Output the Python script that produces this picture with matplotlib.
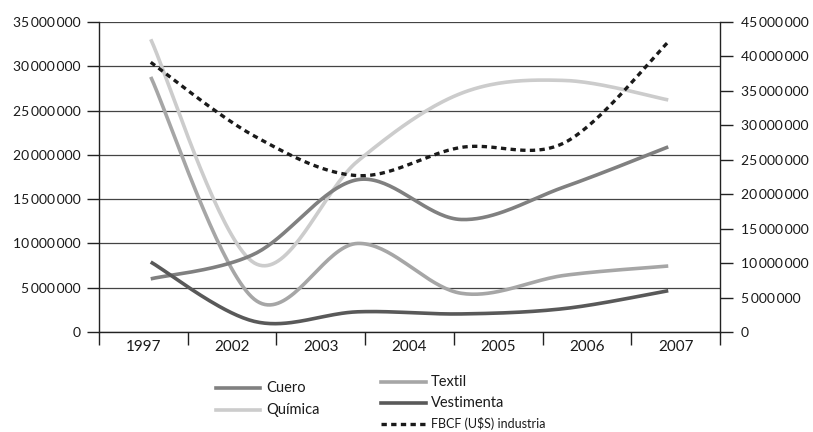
import numpy as np
import matplotlib
matplotlib.use("Agg")
import matplotlib.pyplot as plt
from matplotlib.lines import Line2D
from matplotlib.ticker import FuncFormatter, MultipleLocator, FixedLocator

plt.rcParams['font.family'] = ['Lato', 'DejaVu Sans']

# ---- data ----
categories = ["1997", "2002", "2003", "2004", "2005", "2006", "2007"]
cuero      = [6.0e6, 8.8e6, 17.2e6, 12.7e6, 16.4e6, 20.9e6]
quimica    = [33.05e6, 7.8e6, 19.3e6, 26.95e6, 28.4e6, 26.2e6]
textil     = [28.8e6, 3.7e6, 10.0e6, 4.37e6, 6.4e6, 7.45e6]
vestimenta = [7.9e6, 1.2e6, 2.28e6, 2.04e6, 2.65e6, 4.66e6]
fbcf       = [39.15e6, 28.45e6, 22.7e6, 26.8e6, 27.5e6, 42.1e6]   # right axis

W, H = 813, 432
fig = plt.figure(figsize=(W / 100, H / 100), dpi=100)
ax = fig.add_axes([99 / W, 1 - 332 / H, 621 / W, 310 / H])
ax2 = ax.twinx()


def smooth(xs, ys, n=40):
    """Excel-like smoothed line (Catmull-Rom Bezier)."""
    P = np.column_stack([xs, ys]).astype(float)
    m = len(P)
    out = []
    for i in range(m - 1):
        p0 = P[i]
        p3 = P[i + 1]
        prev = P[i - 1] if i > 0 else P[i]
        nxt = P[i + 2] if i + 2 < m else P[i + 1]
        c1 = p0 + (p3 - prev) / 6.0
        c2 = p3 - (nxt - p0) / 6.0
        t = np.linspace(0, 1, n)[:, None]
        seg = ((1 - t) ** 3) * p0 + 3 * ((1 - t) ** 2) * t * c1 + 3 * (1 - t) * t ** 2 * c2 + t ** 3 * p3
        out.append(seg if i == 0 else seg[1:])
    s = np.vstack(out)
    return s[:, 0], s[:, 1]


ncat = len(categories)
npts = len(cuero)
xs = (np.arange(npts) + 0.5) * ncat / npts

styles = {
    "Cuero": dict(color="#808080", lw=2.6),
    "Química": dict(color="#cccccc", lw=2.6),
    "Textil": dict(color="#a6a6a6", lw=2.6),
    "Vestimenta": dict(color="#595959", lw=2.6),
    "FBCF (U$S) industria": dict(color="#1a1a1a", lw=2.4, dashes=(1.6, 1.3), dash_capstyle="butt"),
}

for name, vals in [("Química", quimica), ("Textil", textil), ("Cuero", cuero), ("Vestimenta", vestimenta)]:
    sx, sy = smooth(xs, vals)
    ax.plot(sx, sy, solid_capstyle="butt", zorder=3, **styles[name])
sx, sy = smooth(xs, fbcf)
ax2.plot(sx, sy, zorder=4, **styles["FBCF (U$S) industria"])

fmt = FuncFormatter(lambda v, p: f"{v:,.0f}".replace(",", "\u2009"))

ax.set_xlim(0, ncat)
ax.set_ylim(0, 35e6)
ax2.set_ylim(0, 45e6)
ax.yaxis.set_major_locator(MultipleLocator(5e6))
ax2.yaxis.set_major_locator(MultipleLocator(5e6))
ax.yaxis.set_major_formatter(fmt)
ax2.yaxis.set_major_formatter(fmt)

ax.xaxis.set_major_locator(FixedLocator(np.arange(ncat + 1)))
ax.xaxis.set_minor_locator(FixedLocator(np.arange(ncat) + 0.5))
ax.set_xticklabels([""] * (ncat + 1))
ax.set_xticklabels(categories, minor=True)
ax.tick_params(axis="x", which="major", length=9, width=1, color="#222222")
ax.tick_params(axis="x", which="minor", length=0, pad=6, labelsize=11, labelcolor="#1a1a1a")
ax.tick_params(axis="y", length=9, width=1, color="#222222", pad=4, labelsize=10, labelcolor="#1a1a1a")
ax2.tick_params(axis="y", length=9, width=1, color="#222222", pad=6, labelsize=10, labelcolor="#1a1a1a")

ax.grid(axis="y", color="#444444", lw=0.9, zorder=0)
ax.set_axisbelow(True)
for a in (ax, ax2):
    a.spines["top"].set_visible(False)
    for s in ("left", "right", "bottom"):
        a.spines[s].set_color("#222222")
        a.spines[s].set_linewidth(1)
ax2.spines["left"].set_visible(False)
ax2.spines["bottom"].set_visible(False)
ax.spines["right"].set_visible(False)
ax.patch.set_visible(False)
ax2.patch.set_visible(False)


# ---- legend (manual layout) ----
def fx(px):
    return px / W


def fy(py):
    return 1 - py / H


legend_items = [
    ("Cuero", 216, 260, 388, 266),
    ("Química", 216, 260, 410, 266),
    ("Textil", 381, 426, 382, 431),
    ("Vestimenta", 381, 426, 403, 431),
    ("FBCF (U$S) industria", 381, 426, 424, 431),
]
for name, x0, x1, y, tx in legend_items:
    st = dict(styles[name])
    fig.add_artist(Line2D([fx(x0), fx(x1)], [fy(y), fy(y)], transform=fig.transFigure, **st))
    fs = 10.5 if name != "FBCF (U$S) industria" else 9
    fig.text(fx(tx), fy(y), name, ha="left", va="center", fontsize=fs, color="#1a1a1a")

fig.savefig("out.png", dpi=100)
